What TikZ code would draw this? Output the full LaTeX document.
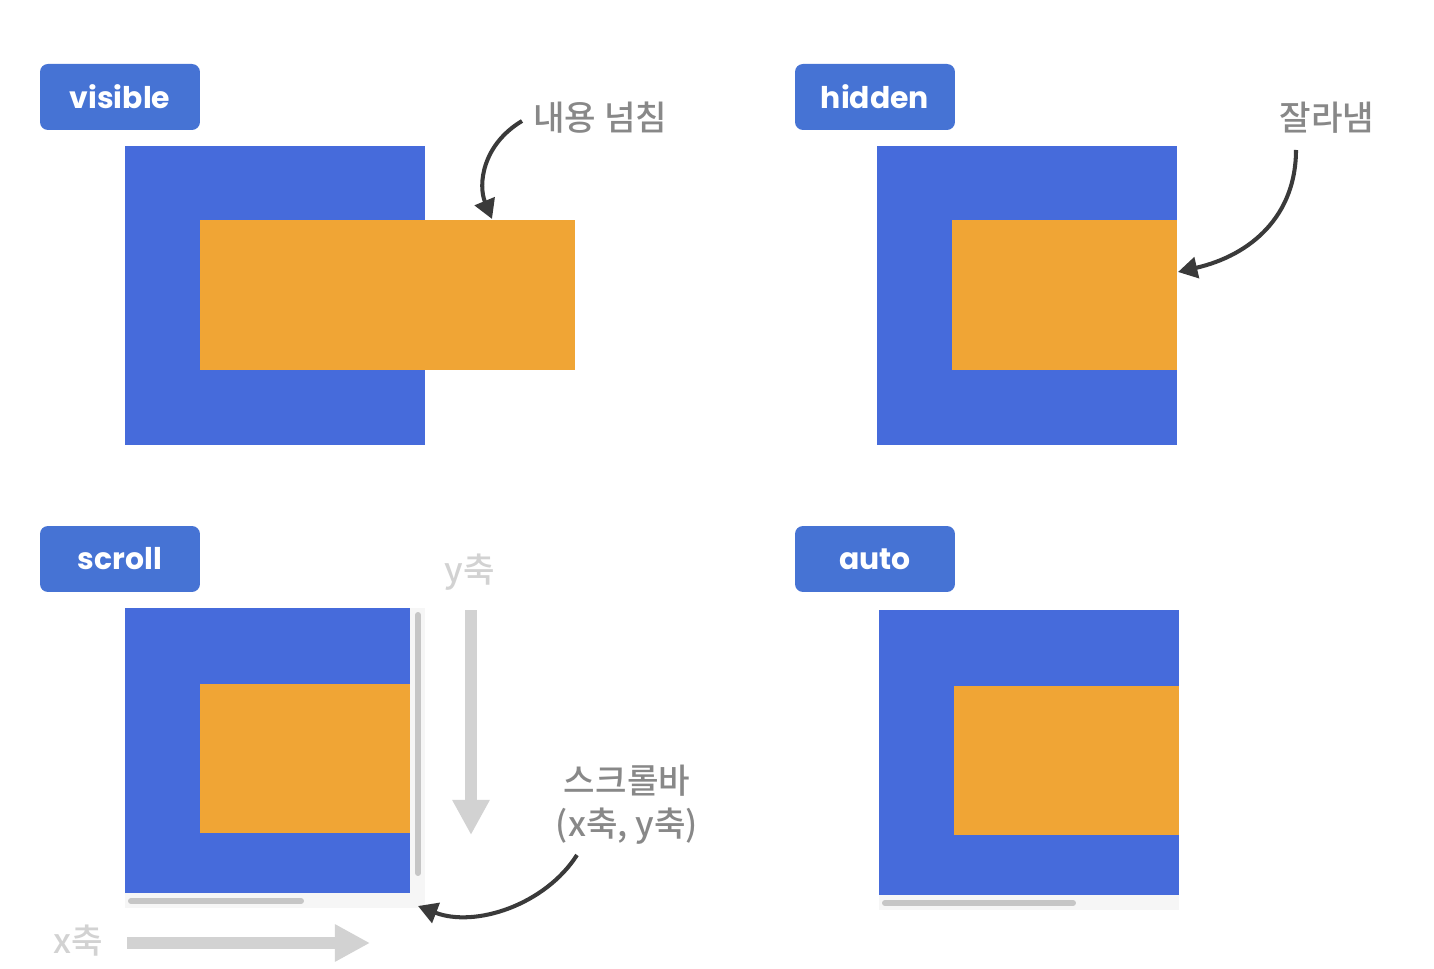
\documentclass[tikz,border=0pt]{standalone}
\usepackage{fontspec}
\setmainfont{Poppins}[BoldFont={Poppins Bold}]
\newfontfamily\kr{Noto Sans CJK KR Medium}
\usetikzlibrary{arrows.meta}
\definecolor{sqblue}{RGB}{70,107,219}
\definecolor{labblue}{RGB}{70,115,212}
\definecolor{orng}{RGB}{240,165,53}
\definecolor{darkarr}{RGB}{58,58,58}
\definecolor{txtgray}{RGB}{136,136,136}
\definecolor{ltgray}{RGB}{210,210,210}
\definecolor{barg}{RGB}{198,198,198}
\definecolor{faint}{RGB}{246,246,246}
\tikzset{
  rect/.style={inner sep=0pt, outer sep=0pt, anchor=north west, draw=none},
  bluesq/.style={rect, fill=sqblue},
  orbox/.style={rect, fill=orng},
  faintbox/.style={rect, fill=faint},
  tag/.style={rect, fill=labblue, rounded corners=0.16cm, minimum width=3.2cm, minimum height=1.32cm,
     text=white, font=\bfseries\fontsize{17}{20}\selectfont},
  note/.style={text=txtgray, font=\kr\fontsize{19.5}{24.5}\selectfont, inner sep=0pt, align=center},
  axis/.style={text=ltgray, font=\kr\fontsize{19.5}{23}\selectfont, inner sep=0pt},
  callout/.style={draw=darkarr, line width=2.3pt, -{Triangle[length=11pt,width=12pt]}},
  bigarr/.style={draw=ltgray, line width=6.5pt, -{Triangle[length=20pt,width=20pt]}},
  sbar/.style={draw=barg, line width=3.4pt, line cap=round},
}
\begin{document}
\begin{tikzpicture}[x=0.02cm,y=-0.02cm]
\useasboundingbox (0,0) rectangle (1434,969);
% visible
\node[tag] (tv) at (40,64) {visible};
\node[bluesq, minimum width=6cm, minimum height=5.98cm] (bv) at (125,146) {};
\node[orbox, minimum width=7.5cm, minimum height=3cm] (ov) at (200,220) {};
\node[note, anchor=west] (nv) at (533,118) {내용 넘침};
\coordinate (nvs) at (522,121);
\coordinate (nvt) at (492,219);
\draw[callout] (nvs) .. controls (482,145) and (478,185) .. (nvt);
% hidden
\node[tag] (th) at (795,64) {hidden};
\node[bluesq, minimum width=6cm, minimum height=5.98cm] (bh) at (877,146) {};
\node[orbox, minimum width=4.5cm, minimum height=3cm] (oh) at (952,220) {};
\node[note] (nh) at (1327,118) {잘라냄};
\coordinate (nhs) at (1296,150);
\coordinate (nht) at (1178,272);
\draw[callout] (nhs) .. controls (1296,215) and (1252,255) .. (nht);
% scroll
\node[tag] (ts) at (40,526) {scroll};
\node[faintbox, minimum width=6cm, minimum height=6cm] (fs) at (125,608) {};
\node[bluesq, minimum width=5.7cm, minimum height=5.7cm] (bs) at (125,608) {};
\node[orbox, minimum width=4.2cm, minimum height=2.98cm] (os) at (200,684) {};
\coordinate (vs1) at (418,615);
\coordinate (vs2) at (418,873);
\draw[sbar] (vs1) -- (vs2);
\coordinate (hs1) at (131,901);
\coordinate (hs2) at (301,901);
\draw[sbar] (hs1) -- (hs2);
\node[axis] (ya) at (470,572) {y축};
\coordinate (ya1) at (471,610);
\coordinate (ya2) at (471,835);
\draw[bigarr] (ya1) -- (ya2);
\node[axis] (xa) at (78,941) {x축};
\coordinate (xa1) at (127,943);
\coordinate (xa2) at (370,943);
\draw[bigarr] (xa1) -- (xa2);
\node[note] (ns) at (627,805) {스크롤바\\(x축, y축)};
\coordinate (nss) at (577,855);
\coordinate (nst) at (418,906);
\draw[callout] (nss) .. controls (545,905) and (475,928) .. (nst);
% auto
\node[tag] (ta) at (795,526) {auto};
\node[faintbox, minimum width=6cm, minimum height=6cm] (fa) at (879,610) {};
\node[bluesq, minimum width=6cm, minimum height=5.7cm] (ba) at (879,610) {};
\node[orbox, minimum width=4.5cm, minimum height=2.98cm] (oa) at (954,686) {};
\coordinate (ha1) at (885,903);
\coordinate (ha2) at (1073,903);
\draw[sbar] (ha1) -- (ha2);
\end{tikzpicture}
\end{document}
